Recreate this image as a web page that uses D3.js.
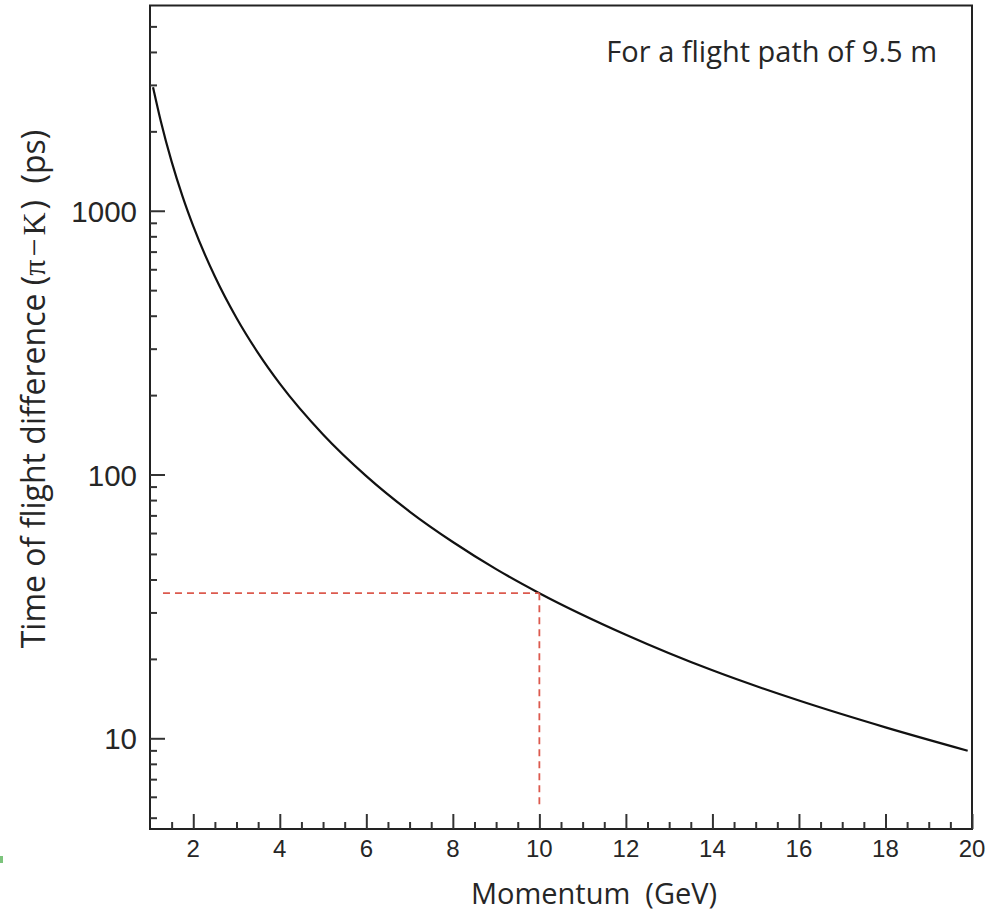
<!DOCTYPE html>
<html>
<head>
<meta charset="utf-8">
<script src="https://cdn.jsdelivr.net/npm/d3@7"></script>
<style>
  html, body { margin: 0; padding: 0; background: #fff; }
  svg { display: block; }
</style>
</head>
<body>
<svg id="chart" width="990" height="911"></svg>
<script>
// ---- data ----
const momentum = [1.07, 1.25, 1.5, 1.75, 2, 2.5, 3, 3.5, 4, 5, 6, 7, 8, 9, 10, 12, 14, 16, 18, 19.9];
const tofDiff  = [2940, 2185, 1535, 1136, 874, 563, 392, 288.5, 221, 141.8, 98.6, 72.4, 55.5, 43.8, 35.5, 24.7, 18.1, 13.9, 11.0, 8.97];
const xTickLabels = [2, 4, 6, 8, 10, 12, 14, 16, 18, 20];
const yTickLabels = [10, 100, 1000];
const markMomentum = 10;
const markTof = 35.5;
const guideStartMomentum = 1.3;
const guideFloorTof = 5.6;
const titleText = "For a flight path of 9.5 m";
const xLabel = "Momentum  (GeV)";
const yLabelParts = ["Time of flight difference (", "\u03C0\u2212K", ")  (ps)"];

// ---- layout ----
const svg = d3.select("#chart");
const plotL = 150, plotR = 972, plotT = 5.5, plotB = 829;
const x = d3.scaleLinear().domain([1, 20]).range([plotL, plotR]);
const y = d3.scaleLog().domain([4.53, 6000]).range([plotB, plotT]);
const axisColor = "#333";
const textColor = "#262626";

// curve
const pts = momentum.map((p, i) => [p, tofDiff[i]]);
svg.append("path")
  .datum(pts)
  .attr("fill", "none")
  .attr("stroke", "#111")
  .attr("stroke-width", 2.2)
  .attr("d", d3.line().x(d => x(d[0])).y(d => y(d[1])).curve(d3.curveMonotoneX));

// red dashed guides
const red = "#dc5a4e";
svg.append("line")
  .attr("x1", x(guideStartMomentum)).attr("x2", x(markMomentum))
  .attr("y1", y(markTof)).attr("y2", y(markTof))
  .attr("stroke", red).attr("stroke-width", 1.8).attr("stroke-dasharray", "7,5");
svg.append("line")
  .attr("x1", x(markMomentum)).attr("x2", x(markMomentum))
  .attr("y1", y(markTof)).attr("y2", y(guideFloorTof))
  .attr("stroke", red).attr("stroke-width", 1.8).attr("stroke-dasharray", "7,5");

// frame
svg.append("rect")
  .attr("x", plotL).attr("y", plotT)
  .attr("width", plotR - plotL).attr("height", plotB - plotT)
  .attr("fill", "none").attr("stroke", "#222").attr("stroke-width", 2);

// x axis: major ticks at labels, minor every 0.5
const xMinor = d3.range(1.5, 20, 0.5).filter(v => !xTickLabels.includes(v));
const gxm = svg.append("g").attr("transform", `translate(0,${plotB})`)
  .call(d3.axisTop(x).tickValues(xMinor).tickSize(7).tickFormat(""));
const gxM = svg.append("g").attr("transform", `translate(0,${plotB})`)
  .call(d3.axisTop(x).tickValues(xTickLabels).tickSize(15).tickFormat(""));
[gxm, gxM].forEach(g => {
  g.select(".domain").remove();
  g.selectAll("line").attr("stroke", axisColor).attr("stroke-width", 2);
});
svg.append("g").selectAll("text").data(xTickLabels).join("text")
  .attr("x", d => x(d)).attr("y", 857)
  .attr("text-anchor", "middle")
  .attr("font-family", "Liberation Sans, Arial, sans-serif")
  .attr("font-size", 24)
  .attr("fill", textColor)
  .text(d => d);

// y axis: major at decades, minor at 2..9 multiples
const yMinor = [];
[1, 10, 100, 1000].forEach(dec => {
  for (let k = 1; k <= 9; k++) {
    const v = k * dec;
    if (v >= 5 && v <= 5000 && !yTickLabels.includes(v)) yMinor.push(v);
  }
});
const gym = svg.append("g").attr("transform", `translate(${plotL},0)`)
  .call(d3.axisRight(y).tickValues(yMinor).tickSize(7).tickFormat(""));
const gyM = svg.append("g").attr("transform", `translate(${plotL},0)`)
  .call(d3.axisRight(y).tickValues(yTickLabels).tickSize(15).tickFormat(""));
[gym, gyM].forEach(g => {
  g.select(".domain").remove();
  g.selectAll("line").attr("stroke", axisColor).attr("stroke-width", 2);
});
svg.append("g").selectAll("text").data(yTickLabels).join("text")
  .attr("x", 137).attr("y", d => y(d) + 11)
  .attr("text-anchor", "end")
  .attr("font-family", "Liberation Sans, Arial, sans-serif")
  .attr("font-size", 29.5)
  .attr("fill", textColor)
  .text(d => d);

// labels
const labelFont = "Open Sans, Noto Sans, sans-serif";
svg.append("text")
  .attr("x", 594).attr("y", 904)
  .attr("text-anchor", "middle")
  .attr("font-family", labelFont).attr("font-size", 29).attr("fill", textColor)
  .style("white-space", "pre")
  .text(xLabel);

const yl = svg.append("text")
  .attr("transform", "translate(45,389) rotate(-90)")
  .attr("text-anchor", "middle")
  .attr("font-family", labelFont).attr("font-size", 32).attr("fill", textColor)
  .style("white-space", "pre");
yl.append("tspan").text(yLabelParts[0]);
yl.append("tspan").attr("font-family", "Liberation Serif, Times New Roman, serif")
  .attr("letter-spacing", 3).text(yLabelParts[1]);
yl.append("tspan").text(yLabelParts[2]);

svg.append("text")
  .attr("x", 937).attr("y", 62)
  .attr("text-anchor", "end")
  .attr("font-family", labelFont).attr("font-size", 29).attr("fill", textColor)
  .text(titleText);

// small green mark at bottom-left edge (present in reference)
svg.append("rect").attr("x", 0).attr("y", 856).attr("width", 3).attr("height", 7).attr("fill", "#7cc47c");
</script>
</body>
</html>
